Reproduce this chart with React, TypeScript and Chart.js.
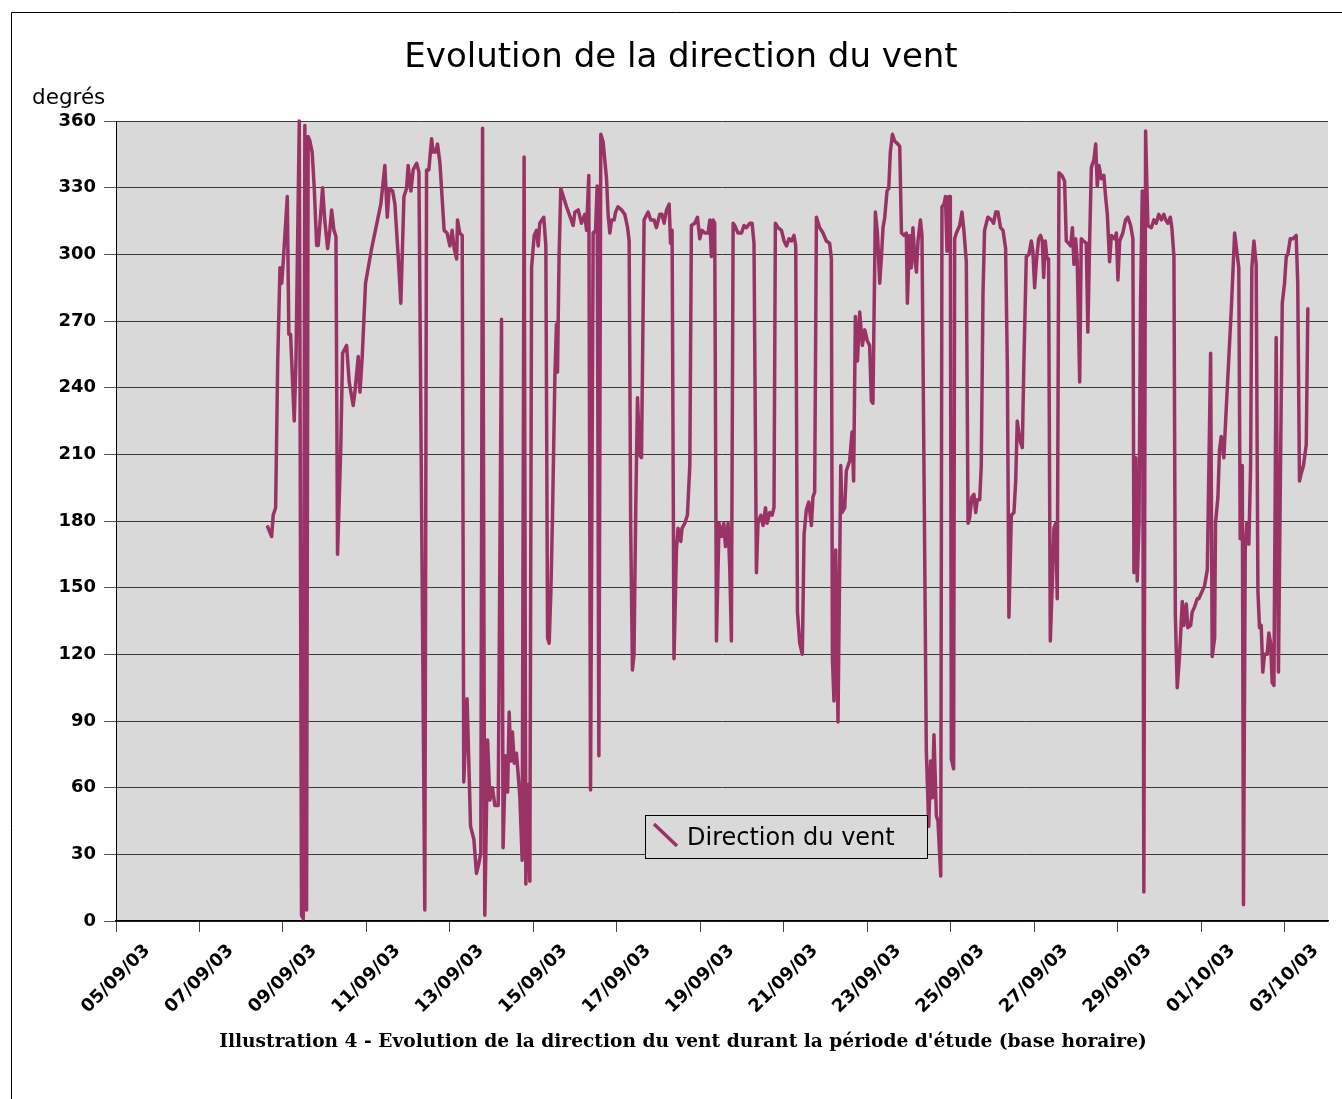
import React, { useEffect, useRef } from 'react';
import { Chart, registerables } from 'chart.js';

Chart.register(...registerables);

// ---- Data (hours since 05/09/03 00:00, wind direction in degrees) ----
const hours = [
  87.2, 89.5, 90.4, 91.8, 93.0, 94.3, 95.3, 96.2, 98.5, 99.4, 100.4, 102.5, 103.5, 105.4, 106.7, 107.7, 108.6, 109.6, 110.5, 111.5,
  112.8, 114.0, 115.4, 116.3, 117.7, 118.8, 120.1, 121.7, 123.0, 124.0, 125.3, 126.5, 127.4, 129.3, 130.3, 132.6, 134.1, 136.4, 137.4, 139.3,
  140.3, 141.6, 143.5, 147.0, 152.3, 154.6, 156.0, 157.1, 159.1, 160.4, 162.3, 163.8, 165.6, 167.1, 168.0, 169.6, 170.9, 172.9, 174.2,
  177.6, 178.6, 179.9, 181.5, 182.4, 183.8, 184.9, 186.3, 188.7, 190.4, 192.0, 193.3, 194.5, 195.9, 196.4, 197.7, 199.1, 200.0, 201.9, 203.9,
  205.8, 207.3, 208.7, 209.8, 210.8, 212.1, 213.7, 215.0, 216.5, 217.9, 219.8, 221.7, 222.6, 224.0, 225.2, 226.1, 227.1, 228.0, 229.0, 230.3,
  232.2, 233.6, 234.7, 235.7, 237.0, 238.0, 239.0, 240.5, 241.8, 242.8, 243.7, 246.0, 247.2, 248.2, 249.1, 250.1, 251.0, 252.4, 253.3, 253.9,
  254.8, 255.8, 259.1, 262.9,
  263.9, 265.8, 267.7, 269.6, 270.6, 271.9, 272.9, 274.4, 275.8, 276.7, 277.7, 278.8, 280.1, 282.1, 283.0, 284.0, 285.0, 286.5, 287.3, 288.7,
  290.7, 292.6, 294.2, 295.1, 296.0, 297.0, 297.9, 298.9, 299.9, 301.2, 302.2, 303.7, 306.0, 307.5, 309.4, 310.8, 312.7, 314.0, 315.2, 316.6,
  318.1, 318.9, 319.8, 320.9, 322.3, 323.2, 324.8, 325.5, 327.1, 328.6, 330.0, 330.9, 332.8, 334.4, 335.7, 337.0, 338.6, 340.5, 341.5, 342.4,
  343.4, 344.3, 345.3, 346.8, 348.2, 349.5, 350.5, 352.0, 353.0, 353.9, 354.9,
  355.8, 357.7, 359.7, 361.2, 362.6, 364.5, 365.8, 366.9, 368.3, 369.2, 370.8, 372.1, 373.5, 374.4, 376.0, 377.3, 378.4, 379.2, 380.7, 382.7,
  384.2, 385.6, 387.0, 388.4, 389.9, 390.9, 391.9, 393.2, 394.7, 395.7, 397.0, 398.4, 399.9, 400.8, 401.8, 402.8, 404.7, 406.6, 408.5, 410.4,
  411.4, 412.0, 412.9, 413.9, 415.2, 416.8, 417.5, 419.1, 420.0, 421.9, 423.3, 424.2, 425.2, 426.4, 427.7, 429.2, 430.6, 432.1, 433.4, 434.4,
  435.3, 436.7, 437.9, 439.2, 440.2, 441.1, 442.1, 443.4, 444.4, 445.3, 446.5, 447.8, 449.7, 450.7, 451.7,
  453.2, 454.5, 455.1, 456.4, 457.4, 458.3, 459.3, 460.3, 461.2, 462.6, 463.5, 464.7, 466.0, 467.4, 468.5, 469.5, 470.4, 471.8, 472.7, 474.3,
  475.0, 476.2, 477.0, 477.9, 478.9, 479.8, 480.4, 481.7, 482.3, 483.3, 485.2, 486.5, 487.6, 489.0, 490.0, 490.9, 492.2, 493.4, 494.4, 495.3,
  496.7, 497.6, 498.6, 499.5, 501.4, 503.4, 504.7, 505.9, 507.2, 508.7, 510.1, 511.6, 512.6, 513.5, 514.9, 516.4, 517.4, 518.3, 519.7, 521.2,
  522.1, 523.5, 525.0, 526.4, 527.3, 528.3, 529.3, 530.6, 531.7, 532.7, 533.5, 534.4, 535.4, 536.3, 537.3, 538.5, 539.4, 540.4, 541.3, 542.3,
  544.0, 545.5, 546.5, 547.8, 549.0, 550.0, 550.9, 551.9, 552.8, 554.2, 555.1, 556.4, 558.0, 558.9, 559.9, 560.9, 562.4, 563.4, 564.3, 565.3,
  566.6, 568.1, 569.1, 570.1, 571.4, 572.4, 574.3, 575.3, 576.2, 577.2, 579.0, 580.6, 581.9, 583.5, 584.8, 585.4, 586.4, 587.3, 588.3, 589.2,
  590.2, 591.1, 592.1, 593.4, 595.4, 596.9, 598.2, 599.7, 601.1, 602.6, 603.6, 604.9, 606.3, 607.2, 608.4, 609.2, 610.3, 611.6, 613.2, 614.1,
  615.5, 616.4, 618.0, 618.9, 620.3, 621.8, 622.7,
  624.7, 626.0, 627.6, 629.5, 630.4, 631.8, 632.3, 633.7, 634.6, 635.6, 637.1, 638.5, 641.4, 643.3, 645.7, 646.5, 647.7, 648.4, 649.4, 650.3,
  651.5, 652.5, 653.2, 654.4, 655.7, 656.7, 657.6, 658.6, 659.5, 660.5, 662.0, 663.0, 664.0, 664.9, 665.9, 667.2, 668.5, 669.7, 670.7, 672.0,
  673.0, 673.9, 675.3, 676.8, 678.7, 679.6, 680.6, 681.6, 682.9, 684.5, 685.4,
];

const directions = [
  177.4, 173, 182.6, 186, 252, 294, 287, 297, 326, 264, 264, 225, 252, 360, 2.6, 1, 358, 5, 353, 351,
  346, 330, 304, 304, 318, 330, 315, 302.6, 311, 320, 311, 308, 165, 214, 255.5, 259, 242.6, 232, 238, 254,
  238, 254, 287, 302.6, 322.6, 340, 316.7, 329.6, 328.5, 322.6, 299, 278, 326, 329.6, 340, 328.5, 338, 341, 337,
  5, 338, 338, 352, 346, 346, 349.6, 341, 310.8, 309.6, 303.8, 310.8, 302.6, 297.9, 315.5, 309.6, 308.5, 62.6, 100, 42.6,
  36.7, 21.4, 26, 30.8, 356.7, 2.6, 81.4, 54.4, 60, 52, 52, 270.8, 33, 74.4, 58, 94, 72, 85, 71, 75.5,
  56.7, 27.3, 343.8, 16.7, 61.4, 17.9, 294, 308.5, 310.8, 303.8, 314, 316.7, 303.8, 127.3, 125, 148.5, 181.4, 245, 268.5, 247,
  299, 329.6, 321.4, 313,
  319, 320, 314, 318, 310.8, 335.5, 59, 309.6, 310.8, 330.8, 74.4, 354, 350.8, 334, 318, 309.6, 315.5, 315.5, 319, 321.4,
  320, 318, 312, 306, 176.7, 113, 120, 186, 235.5, 209.6, 208.5, 315.5, 319, 315.5, 315.5, 312, 318, 318, 314, 320,
  322.6, 305, 310.8, 118, 167, 176.7, 170.8, 176.7, 179, 182.6, 205, 313, 314, 316.7, 307, 310.8, 309.6, 309.6, 315.5, 299,
  315.5, 314, 126, 179, 173, 179, 168.5, 179, 158, 126, 314,
  313, 309.6, 309.6, 313, 312, 314, 314, 305, 156.7, 179, 182.6, 178, 186, 179, 183.8, 182.6, 186, 314, 312, 310.8,
  306, 303.8, 307, 306, 308.5, 303.8, 139, 125, 120, 174, 185, 188.5, 178, 190.8, 193, 316.7, 312, 309.6, 306, 305,
  298, 118, 99, 167, 89.6, 205, 183.8, 186, 202.6, 207, 220, 198, 272, 252, 274, 259, 266, 261, 259, 234,
  233, 319, 309.6, 287, 299, 312, 316.7, 328.5, 329.6, 346, 354, 351, 349.6, 348.5, 309.6,
  308.5, 309.6, 278, 308.5, 294, 312, 299, 292, 306, 315.5, 308.5, 200, 76.7, 42.6, 72, 55.5, 83.8, 47.3, 45, 20.2,
  321.4, 322.6, 326, 301.4, 326, 326, 73, 68.5, 307, 309.6, 313, 319, 310.8, 296.7, 179, 181.4, 190.8, 192, 183.8, 189.6,
  189.6, 205, 282.6, 310.8, 316.7, 315.5, 314, 319, 319, 312, 310.8, 302.6, 249.6, 136.7, 182.6, 183.8, 198, 225, 216.7, 213,
  250.8, 299, 300, 306, 301.4, 285, 296.7, 307, 308.5, 306, 289.6, 306, 298, 298, 126, 153, 176.7, 179, 145, 336.7,
  335.5, 333, 306, 305, 303.8, 312, 295.5, 307, 296.7, 242.6, 307, 306, 305, 265, 305, 339, 342.6, 349.6, 330.8, 340,
  334, 335.5, 326, 318, 296.7, 308.5, 307, 309.6, 288.5, 306, 309.6, 315.5, 316.7, 313, 307, 156.7, 208.5, 153, 179, 278,
  328.5, 13, 355.5, 313, 312, 315.5, 314, 318, 315.5, 318, 315.5, 314, 316.7, 312, 299, 138, 105, 119, 143.8, 133,
  142.6, 132, 133, 139, 141.4, 145, 145,
  148.5, 150.8, 158, 255.5, 119, 127.3, 179, 190.8, 212, 218, 208.5, 230.8, 275.5, 309.6, 294, 172, 205, 7.3, 167.3, 179,
  169.6, 205, 294, 306, 295.5, 148.5, 132, 133, 112, 120, 120, 129.6, 125, 107.3, 106, 262.6, 112, 205, 278, 287,
  299, 300, 307, 307, 308.5, 287, 198, 201.4, 205, 214.4, 275.5,
];

const dateLabels = [
  '05/09/03', '07/09/03', '09/09/03', '11/09/03', '13/09/03', '15/09/03', '17/09/03', '19/09/03',
  '21/09/03', '23/09/03', '25/09/03', '27/09/03', '29/09/03', '01/10/03', '03/10/03',
];
const hoursPerTick = 48;
const seriesName = 'Direction du vent';
const chartTitle = 'Evolution de la direction du vent';
const yAxisTitle = 'degrés';
const caption = "Illustration 4 - Evolution de la direction du vent durant la période d'étude (base horaire)";

const W = 1342;
const H = 1099;
const LINE_COLOR = '#993366';
const PLOT_BG = '#d9d9d9';

export default function App() {
  const ref = useRef<HTMLCanvasElement>(null);

  useEffect(() => {
    const canvas = ref.current;
    if (!canvas) return;
    const points = hours.map((h, i) => ({ x: h, y: directions[i] }));

    const decor = {
      id: 'decor',
      beforeDraw(chart: any) {
        const { ctx, chartArea: a } = chart;
        ctx.save();
        ctx.fillStyle = '#ffffff';
        ctx.fillRect(0, 0, W, H);
        ctx.fillStyle = PLOT_BG;
        ctx.fillRect(a.left, a.top, a.right - a.left, a.bottom - a.top);
        // outer frame
        ctx.strokeStyle = '#000';
        ctx.lineWidth = 1;
        ctx.beginPath();
        ctx.moveTo(11.5, H);
        ctx.lineTo(11.5, 12.5);
        ctx.lineTo(W, 12.5);
        ctx.stroke();
        // title
        ctx.fillStyle = '#000';
        ctx.font = '34px "DejaVu Sans"';
        ctx.textAlign = 'center';
        ctx.textBaseline = 'alphabetic';
        ctx.fillText(chartTitle, 681, 67);
        // y axis title
        ctx.font = '21.5px "DejaVu Sans"';
        ctx.textAlign = 'left';
        ctx.fillText(yAxisTitle, 32, 104);
        ctx.restore();
      },
      afterDraw(chart: any) {
        const { ctx } = chart;
        const xs = chart.scales.x;
        ctx.save();
        // x tick labels, rotated
        ctx.fillStyle = '#000';
        ctx.font = 'bold 18px "DejaVu Sans"';
        ctx.textAlign = 'center';
        ctx.textBaseline = 'middle';
        dateLabels.forEach((lab, i) => {
          const px = xs.getPixelForValue(i * hoursPerTick);
          ctx.save();
          ctx.translate(px, 979);
          ctx.rotate(-Math.PI / 4);
          ctx.fillText(lab, 0, 0);
          ctx.restore();
        });
        // legend
        ctx.fillStyle = PLOT_BG;
        ctx.fillRect(645.5, 815.5, 282, 43);
        ctx.strokeStyle = '#000';
        ctx.lineWidth = 1;
        ctx.strokeRect(645.5, 815.5, 282, 43);
        ctx.strokeStyle = LINE_COLOR;
        ctx.lineWidth = 3.5;
        ctx.beginPath();
        ctx.moveTo(654, 824);
        ctx.lineTo(677, 846);
        ctx.stroke();
        ctx.fillStyle = '#000';
        ctx.font = '24px "DejaVu Sans"';
        ctx.textAlign = 'left';
        ctx.textBaseline = 'alphabetic';
        ctx.fillText(chart.data.datasets[0].label, 687, 845);
        // caption (fit to reference width)
        ctx.font = 'bold 18px "DejaVu Serif"';
        const w18 = ctx.measureText(caption).width;
        const size = Math.max(10, Math.min(24, (18 * 928) / w18));
        ctx.font = `bold ${size.toFixed(2)}px "DejaVu Serif"`;
        ctx.textAlign = 'center';
        ctx.fillText(caption, 683, 1047);
        ctx.restore();
      },
    };

    const chart = new Chart(canvas, {
      type: 'line',
      data: {
        datasets: [
          {
            label: seriesName,
            data: points,
            borderColor: LINE_COLOR,
            backgroundColor: LINE_COLOR,
            borderWidth: 3.5,
            borderJoinStyle: 'round',
            borderCapStyle: 'round',
            pointRadius: 0,
            tension: 0,
            fill: false,
            clip: 3,
          } as any,
        ],
      },
      options: {
        responsive: false,
        animation: false,
        events: [],
        devicePixelRatio: 1,
        layout: { padding: { left: 0, top: 121, right: 14, bottom: 0 } },
        plugins: {
          legend: { display: false },
          tooltip: { enabled: false },
          title: { display: false },
        },
        scales: {
          x: {
            type: 'linear',
            min: 0,
            max: 697,
            afterBuildTicks: (s: any) => {
              s.ticks = dateLabels.map((_, i) => ({ value: i * hoursPerTick }));
            },
            afterFit: (s: any) => {
              s.height = H - 921;
            },
            ticks: { display: false },
            grid: {
              drawOnChartArea: false,
              drawTicks: true,
              tickLength: 11,
              tickColor: '#444',
              tickWidth: 1,
            },
            border: { display: true, color: '#000', width: 1.5 },
          },
          y: {
            type: 'linear',
            min: 0,
            max: 360,
            afterFit: (s: any) => {
              s.width = 116;
            },
            ticks: {
              stepSize: 30,
              padding: 8,
              color: '#000',
              font: { family: 'DejaVu Sans', size: 18, weight: 'bold' },
            },
            grid: {
              color: '#3a3a3a',
              lineWidth: 1,
              drawTicks: true,
              tickLength: 12,
              tickColor: '#555',
            },
            border: { display: true, color: '#000', width: 1 },
          },
        },
      },
      plugins: [decor],
    } as any);

    return () => chart.destroy();
  }, []);

  return (
    <div style={{ position: 'fixed', left: 0, top: 0, width: W, height: H, background: '#fff' }}>
      <canvas ref={ref} width={W} height={H} style={{ width: W, height: H, display: 'block' }} />
    </div>
  );
}
